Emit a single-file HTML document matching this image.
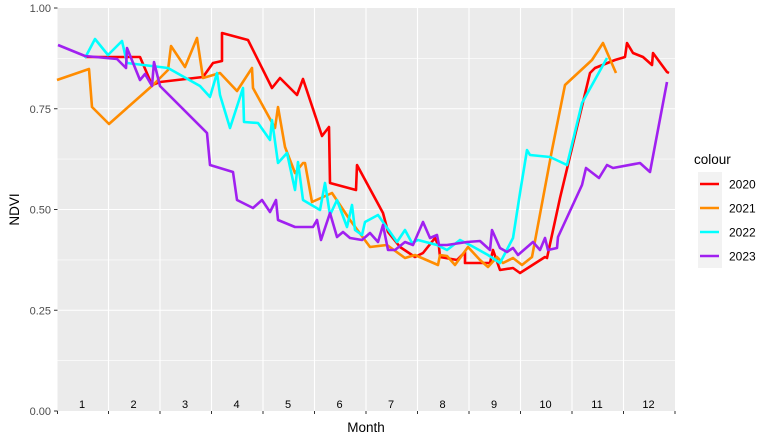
<!DOCTYPE html>
<html><head><meta charset="utf-8"><style>
html,body{margin:0;padding:0;background:#fff;}
svg{display:block;font-family:"Liberation Sans",sans-serif;}
</style></head><body>
<svg width="773" height="442" viewBox="0 0 773 442">
<rect x="0" y="0" width="773" height="442" fill="#fff"/>
<rect x="57.5" y="8" width="617.5" height="403" fill="#ebebeb"/>
<g stroke="#fff" stroke-width="0.6">
<line x1="57.5" x2="675" y1="360.6" y2="360.6"/><line x1="57.5" x2="675" y1="259.9" y2="259.9"/>
<line x1="57.5" x2="675" y1="159.1" y2="159.1"/><line x1="57.5" x2="675" y1="58.4" y2="58.4"/>
</g>
<g stroke="#fff" stroke-width="1.1">
<line x1="57.5" x2="675" y1="310.25" y2="310.25"/><line x1="57.5" x2="675" y1="209.5" y2="209.5"/>
<line x1="57.5" x2="675" y1="108.75" y2="108.75"/>
<line x1="108.5" x2="108.5" y1="8" y2="411"/><line x1="160" x2="160" y1="8" y2="411"/>
<line x1="211.5" x2="211.5" y1="8" y2="411"/><line x1="263" x2="263" y1="8" y2="411"/>
<line x1="314.5" x2="314.5" y1="8" y2="411"/><line x1="366" x2="366" y1="8" y2="411"/>
<line x1="417.5" x2="417.5" y1="8" y2="411"/><line x1="469" x2="469" y1="8" y2="411"/>
<line x1="520.5" x2="520.5" y1="8" y2="411"/><line x1="572" x2="572" y1="8" y2="411"/>
<line x1="623.5" x2="623.5" y1="8" y2="411"/>
</g>
<g fill="none" stroke-width="2.6" stroke-linejoin="round">
<polyline stroke="#ff0000" points="85,57 140,57 152,85 160,82 203,77 213,63 222,61 222,33 248,40 272,88 280,78 297,95 303,79 322,136 329,127 330,183 356,190 357,165 383,213 388,232 400,247 415,257 423,253 435,238 439,247 440,257 457,260 465,252 465,263 490,263 493,250 500,270 513,268 520,273 545,257 547,258 560,198 590,73 595,68 615,60 625,57 627,43 633,53 643,57 652,65 653,53 667,72 669,73"/>
<polyline stroke="#ff8c00" points="57,80 89,69 92,107 109,124 153,85 168,70 171,46 185,67 197,38 203,78 220,73 237,91 252,68 253,88 275,128 278,107 285,147 295,173 303,163 305,163 312,202 332,193 350,220 370,247 387,245 405,258 415,255 438,265 440,255 447,256 455,265 468,247 480,260 488,267 497,257 503,263 513,258 522,265 532,257 552,150 565,85 592,60 603,43 616,73"/>
<polyline stroke="#00ffff" points="85,58 95,39 108,55 122,41 127,63 168,68 200,86 210,97 217,73 220,95 230,128 243,88 244,122 258,123 270,140 272,120 278,163 287,153 295,190 298,162 303,200 320,210 325,183 330,215 337,200 347,227 352,205 355,230 362,235 365,222 378,215 390,232 397,242 405,230 412,243 418,240 437,245 447,250 460,240 470,245 488,255 500,263 513,238 520,193 527,150 530,155 550,157 567,165 582,103 607,58"/>
<polyline stroke="#a020f0" points="58,45 85,56 117,59 126,68 127,48 140,80 145,74 152,86 154,62 160,86 207,133 210,165 233,172 237,200 253,208 262,200 270,212 276,200 278,220 295,227 313,227 317,220 321,240 330,213 337,237 343,232 350,238 362,240 370,233 378,242 383,225 388,250 395,250 405,242 413,245 423,222 430,238 437,235 439,245 447,245 467,242 480,241 490,250 492,230 500,248 507,252 513,248 518,255 533,242 540,250 545,238 548,250 557,248 558,237 582,185 586,168 599,178 607,165 613,168 640,163 650,172 667,82"/>
</g>
<g font-size="11" fill="#000" text-anchor="middle">
<text x="82" y="408">1</text><text x="133.5" y="408">2</text><text x="185" y="408">3</text><text x="236.5" y="408">4</text>
<text x="288" y="408">5</text><text x="339.5" y="408">6</text><text x="391" y="408">7</text><text x="442.5" y="408">8</text>
<text x="494" y="408">9</text><text x="545.5" y="408">10</text><text x="597" y="408">11</text><text x="648.5" y="408">12</text>
</g>
<g stroke="#333" stroke-width="1">
<line x1="57.5" x2="57.5" y1="411" y2="414"/><line x1="108.5" x2="108.5" y1="411" y2="414"/><line x1="160" x2="160" y1="411" y2="414"/>
<line x1="211.5" x2="211.5" y1="411" y2="414"/><line x1="263" x2="263" y1="411" y2="414"/><line x1="314.5" x2="314.5" y1="411" y2="414"/>
<line x1="366" x2="366" y1="411" y2="414"/><line x1="417.5" x2="417.5" y1="411" y2="414"/><line x1="469" x2="469" y1="411" y2="414"/>
<line x1="520.5" x2="520.5" y1="411" y2="414"/><line x1="572" x2="572" y1="411" y2="414"/><line x1="623.5" x2="623.5" y1="411" y2="414"/>
<line x1="675" x2="675" y1="411" y2="414"/>
<line x1="54" x2="57.5" y1="411" y2="411"/><line x1="54" x2="57.5" y1="310.25" y2="310.25"/><line x1="54" x2="57.5" y1="209.5" y2="209.5"/>
<line x1="54" x2="57.5" y1="108.75" y2="108.75"/><line x1="54" x2="57.5" y1="8" y2="8"/>
</g>
<g font-size="11" fill="#4d4d4d" text-anchor="end">
<text x="51" y="415">0.00</text><text x="51" y="314.25">0.25</text><text x="51" y="213.5">0.50</text>
<text x="51" y="112.75">0.75</text><text x="51" y="12">1.00</text>
</g>
<text x="366" y="432" font-size="13.5" text-anchor="middle">Month</text>
<text x="19" y="209.5" font-size="13.5" text-anchor="middle" transform="rotate(-90 19 209.5)">NDVI</text>
<text x="694" y="164" font-size="13.5">colour</text>
<rect x="698" y="172" width="24" height="96" fill="#f2f2f2"/>
<g stroke-width="2.6">
<line x1="700" x2="719" y1="184" y2="184" stroke="#ff0000"/>
<line x1="700" x2="719" y1="208" y2="208" stroke="#ff8c00"/>
<line x1="700" x2="719" y1="232" y2="232" stroke="#00ffff"/>
<line x1="700" x2="719" y1="256" y2="256" stroke="#a020f0"/>
</g>
<g font-size="12" fill="#000">
<text x="729" y="188.5">2020</text><text x="729" y="212.5">2021</text><text x="729" y="236.5">2022</text><text x="729" y="260.5">2023</text>
</g>
</svg>
</body></html>
